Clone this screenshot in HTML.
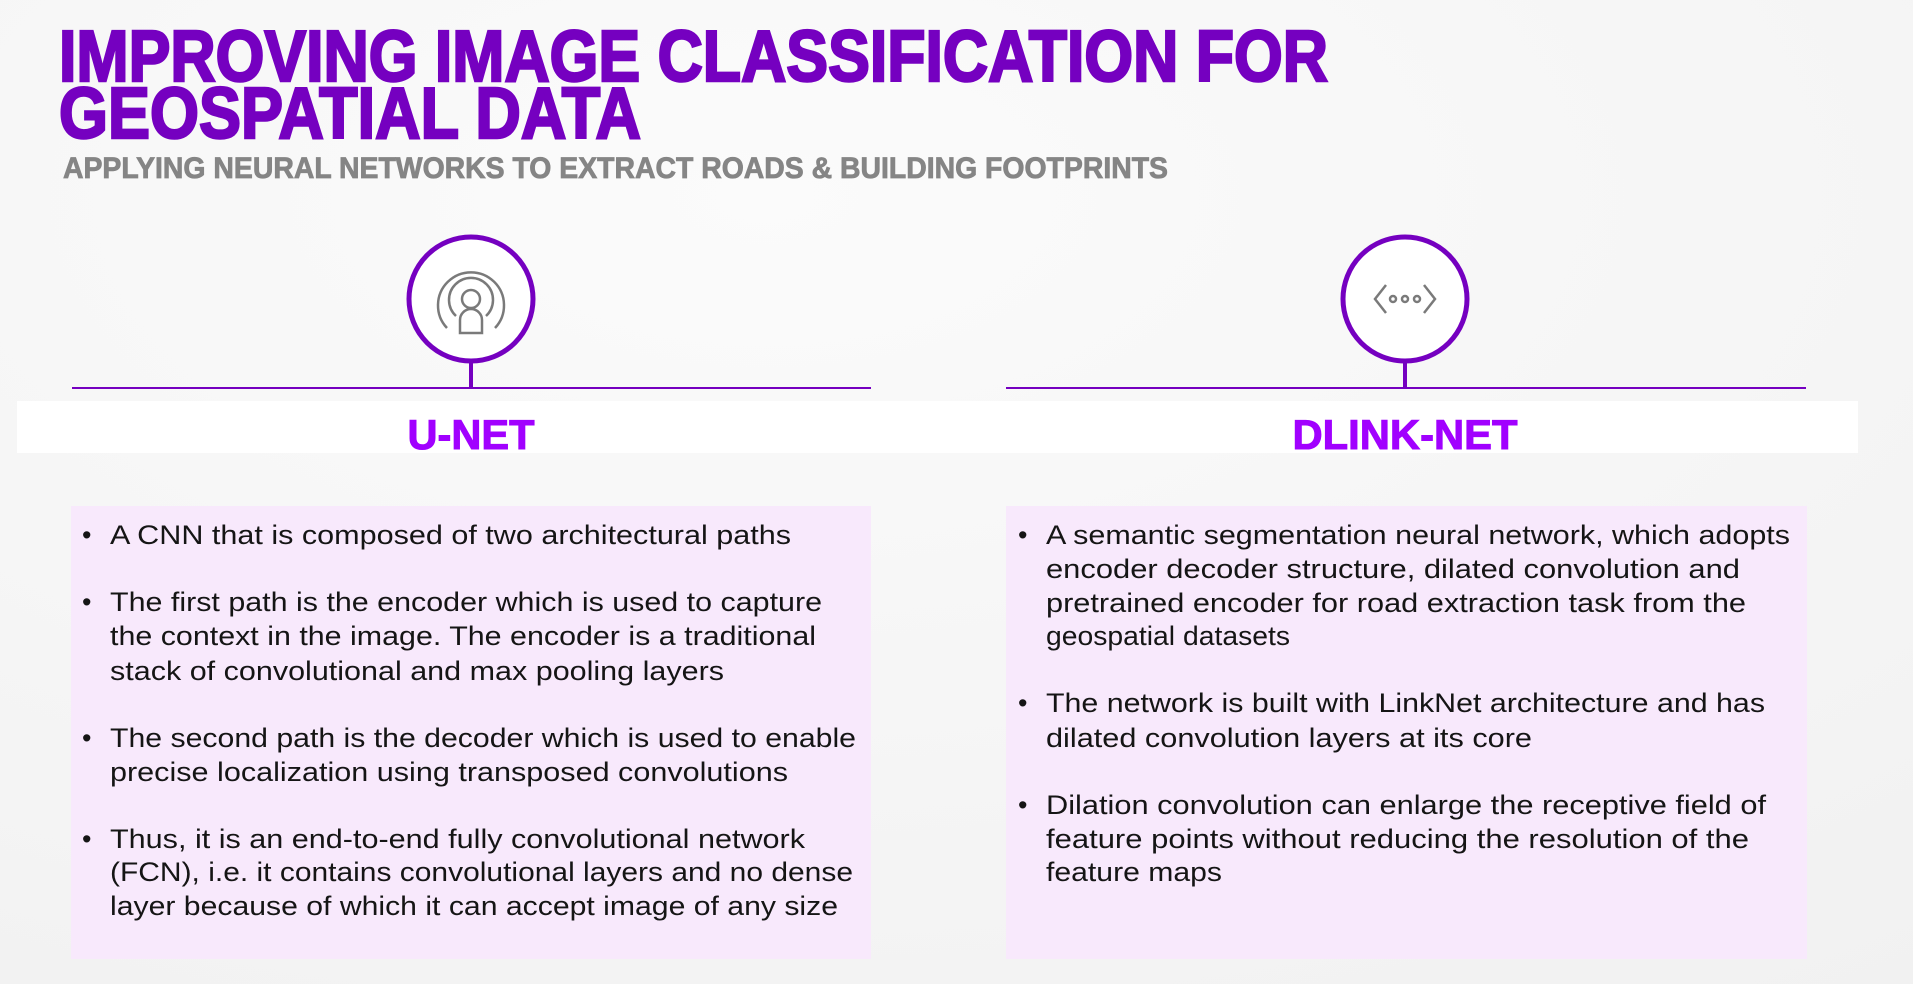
<!DOCTYPE html>
<html><head><meta charset="utf-8"><style>
html,body{margin:0;padding:0;width:1913px;height:984px;overflow:hidden;background:#f7f7f7}
svg{display:block}
.b{font-family:"Liberation Sans",sans-serif;font-size:27px;fill:#151515}
</style></head><body>
<svg width="1913" height="984" viewBox="0 0 1913 984">
<defs><radialGradient id="bg" cx="0.4" cy="0.2" r="1"><stop offset="0" stop-color="#fbfbfb"/><stop offset="1" stop-color="#f1f1f1"/></radialGradient></defs>
<rect width="1913" height="984" fill="url(#bg)"/>
<text x="59" y="81" font-family="Liberation Sans" font-weight="bold" font-size="72" fill="#7500c0" stroke="#7500c0" stroke-width="2.5" textLength="1269" lengthAdjust="spacingAndGlyphs">IMPROVING IMAGE CLASSIFICATION FOR</text>
<text x="59" y="138" font-family="Liberation Sans" font-weight="bold" font-size="72" fill="#7500c0" stroke="#7500c0" stroke-width="2.5" textLength="582" lengthAdjust="spacingAndGlyphs">GEOSPATIAL DATA</text>
<text x="63" y="178" font-family="Liberation Sans" font-weight="bold" font-size="30" fill="#858585" stroke="#858585" stroke-width="0.8" textLength="1105" lengthAdjust="spacingAndGlyphs">APPLYING NEURAL NETWORKS TO EXTRACT ROADS &amp; BUILDING FOOTPRINTS</text>

<g>
<circle cx="471" cy="299" r="62" fill="#fff" stroke="#7500c0" stroke-width="5"/>
<line x1="471" y1="361" x2="471" y2="388" stroke="#7500c0" stroke-width="4"/>
<g fill="none" stroke="#7a7a7a" stroke-width="2.5">
<circle cx="471" cy="299" r="9"/>
<path d="M456 316 A22 22 0 1 1 486 316"/>
<path d="M447 328 A33 33 0 1 1 495 328"/>
<path d="M460 333 L460 320 A11 11 0 0 1 482 320 L482 333 Z"/>
</g></g>
<g>
<circle cx="1405" cy="299" r="62" fill="#fff" stroke="#7500c0" stroke-width="5"/>
<line x1="1405" y1="361" x2="1405" y2="388" stroke="#7500c0" stroke-width="4"/>
<g fill="none" stroke="#7a7a7a" stroke-width="2.5">
<path d="M1386 285 L1375 299 L1386 313"/><path d="M1424 285 L1435 299 L1424 313"/>
<circle cx="1393" cy="299" r="3"/><circle cx="1405" cy="299" r="3"/><circle cx="1417" cy="299" r="3"/>
</g></g>
<line x1="72" y1="388" x2="871" y2="388" stroke="#7500c0" stroke-width="2"/>
<line x1="1006" y1="388" x2="1806" y2="388" stroke="#7500c0" stroke-width="2"/>
<rect x="17" y="401" width="1841" height="52" fill="#fff"/>
<text x="471" y="449" text-anchor="middle" font-family="Liberation Sans" font-weight="bold" font-size="42" fill="#a100ff" stroke="#a100ff" stroke-width="1" textLength="127" lengthAdjust="spacingAndGlyphs">U-NET</text>
<text x="1405" y="449" text-anchor="middle" font-family="Liberation Sans" font-weight="bold" font-size="42" fill="#a100ff" stroke="#a100ff" stroke-width="1" textLength="225" lengthAdjust="spacingAndGlyphs">DLINK-NET</text>

<rect x="71" y="506" width="800" height="453" fill="#f8e9fc"/>
<rect x="1006" y="506" width="801" height="453" fill="#f8e9fc"/>

<g class="b">
<text x="82" y="544">•</text><text x="82" y="611">•</text><text x="82" y="747">•</text><text x="82" y="848">•</text>
<text x="110" y="544" textLength="681" lengthAdjust="spacingAndGlyphs">A CNN that is composed of two architectural paths</text>
<text x="110" y="611" textLength="712" lengthAdjust="spacingAndGlyphs">The first path is the encoder which is used to capture</text>
<text x="110" y="645" textLength="706" lengthAdjust="spacingAndGlyphs">the context in the image. The encoder is a traditional</text>
<text x="110" y="680" textLength="614" lengthAdjust="spacingAndGlyphs">stack of convolutional and max pooling layers</text>
<text x="110" y="747" textLength="746" lengthAdjust="spacingAndGlyphs">The second path is the decoder which is used to enable</text>
<text x="110" y="781" textLength="678" lengthAdjust="spacingAndGlyphs">precise localization using transposed convolutions</text>
<text x="110" y="848" textLength="695" lengthAdjust="spacingAndGlyphs">Thus, it is an end-to-end fully convolutional network</text>
<text x="110" y="881" textLength="743" lengthAdjust="spacingAndGlyphs">(FCN), i.e. it contains convolutional layers and no dense</text>
<text x="110" y="915" textLength="728" lengthAdjust="spacingAndGlyphs">layer because of which it can accept image of any size</text>
</g>
<g class="b">
<text x="1018" y="544">•</text><text x="1018" y="712">•</text><text x="1018" y="814">•</text>
<text x="1046" y="544" textLength="744" lengthAdjust="spacingAndGlyphs">A semantic segmentation neural network, which adopts</text>
<text x="1046" y="578" textLength="694" lengthAdjust="spacingAndGlyphs">encoder decoder structure, dilated convolution and</text>
<text x="1046" y="612" textLength="700" lengthAdjust="spacingAndGlyphs">pretrained encoder for road extraction task from the</text>
<text x="1046" y="645" textLength="244" lengthAdjust="spacingAndGlyphs">geospatial datasets</text>
<text x="1046" y="712" textLength="719" lengthAdjust="spacingAndGlyphs">The network is built with LinkNet architecture and has</text>
<text x="1046" y="747" textLength="486" lengthAdjust="spacingAndGlyphs">dilated convolution layers at its core</text>
<text x="1046" y="814" textLength="720" lengthAdjust="spacingAndGlyphs">Dilation convolution can enlarge the receptive field of</text>
<text x="1046" y="848" textLength="703" lengthAdjust="spacingAndGlyphs">feature points without reducing the resolution of the</text>
<text x="1046" y="881" textLength="176" lengthAdjust="spacingAndGlyphs">feature maps</text>
</g>
</svg>
</body></html>
